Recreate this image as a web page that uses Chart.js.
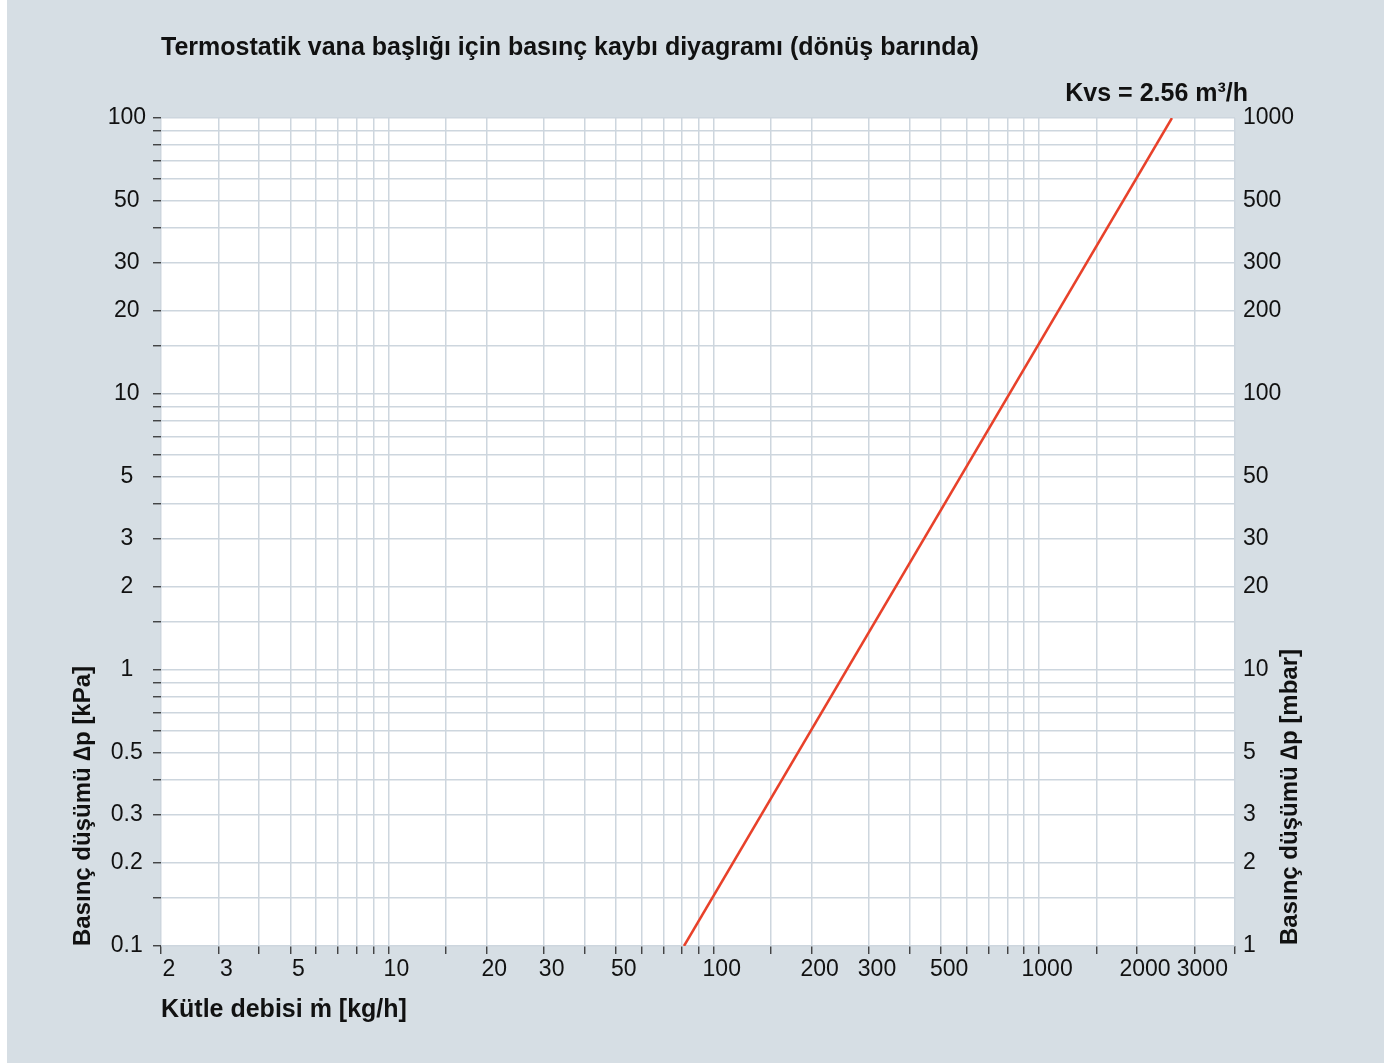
<!DOCTYPE html>
<html>
<head>
<meta charset="utf-8">
<script src="https://cdn.jsdelivr.net/npm/chart.js@4"></script>
<style>
  body { margin: 0; background: #ffffff; }
  #panel { position: absolute; left: 7px; top: 0; width: 1377px; height: 1063px; background: #d6dee4; }
</style>
</head>
<body>
<div id="panel"><canvas id="chart" width="1377" height="1063"></canvas></div>
<script>
// Kvs = 2.56 m3/h line (kg/h, kPa)
const flowKgH = [81, 2560];
const dropKPa = [0.1, 100];

// gridlines / tick marks
const xTickValues = [2, 3, 4, 5, 6, 7, 8, 9, 10, 15, 20, 30, 40, 50, 60, 70, 80, 90,
  100, 150, 200, 300, 400, 500, 600, 700, 800, 900, 1000, 1500, 2000, 3000, 4000];
const xTickLabels = [2, 3, 5, 10, 20, 30, 50, 100, 200, 300, 500, 1000, 2000, 3000];

const yTickValues = [0.1, 0.15, 0.2, 0.3, 0.4, 0.5, 0.6, 0.7, 0.8, 0.9, 1, 1.5, 2, 3, 4, 5, 6, 7, 8, 9,
  10, 15, 20, 30, 40, 50, 60, 70, 80, 90, 100];
const yTickLabels = [0.1, 0.2, 0.3, 0.5, 1, 2, 3, 5, 10, 20, 30, 50, 100];

// right axis in mbar
const mbarTickLabels = [1, 2, 3, 5, 10, 20, 30, 50, 100, 200, 300, 500, 1000];

const FONT = '"Liberation Sans", Arial, "DejaVu Sans", sans-serif';
const GRID = '#cdd6de';
const TICK_FONT = { family: FONT, size: 23 };
const BOLD_FONT = { family: FONT, size: 24, weight: 'bold', lineHeight: 1.2 };
const BIG_BOLD_FONT = { family: FONT, size: 25, weight: 'bold', lineHeight: 1.2 };

const hasLabel = (list, v) => list.some(l => Math.abs(l - v) < 1e-9);

const plotBackground = {
  id: 'plotBackground',
  beforeDraw(chart) {
    const { ctx, chartArea } = chart;
    ctx.save();
    ctx.fillStyle = '#ffffff';
    ctx.fillRect(chartArea.left, chartArea.top, chartArea.right - chartArea.left, chartArea.bottom - chartArea.top);
    ctx.restore();
  }
};

// extra texts: Kvs note and right axis title (reads bottom to top)
const extraTexts = {
  id: 'extraTexts',
  afterDraw(chart) {
    const { ctx, chartArea } = chart;
    ctx.save();
    ctx.fillStyle = '#111';
    ctx.font = 'bold 25px ' + FONT;
    ctx.textAlign = 'right';
    ctx.textBaseline = 'middle';
    ctx.fillText('Kvs = 2.56 m³/h', chartArea.right + 13, 94);

    ctx.font = 'bold 24px ' + FONT;
    ctx.translate(chartArea.right + 55, chartArea.bottom - 1);
    ctx.rotate(-Math.PI / 2);
    ctx.textAlign = 'left';
    ctx.fillText('Basınç düşümü ∆p [mbar]', 0, 0);
    ctx.restore();
  }
};

new Chart(document.getElementById('chart'), {
  type: 'line',
  data: {
    datasets: [{
      data: flowKgH.map((x, i) => ({ x: x, y: dropKPa[i] })),
      borderColor: '#e8412a',
      borderWidth: 2.5,
      pointRadius: 0,
      fill: false
    }]
  },
  options: {
    responsive: false,
    animation: false,
    layout: { padding: 0 },
    plugins: {
      legend: { display: false },
      tooltip: { enabled: false },
      title: {
        display: true,
        text: 'Termostatik vana başlığı için basınç kaybı diyagramı (dönüş barında)',
        align: 'start',
        fullSize: false,
        color: '#111',
        font: BIG_BOLD_FONT,
        padding: { top: 33, bottom: 55 }
      }
    },
    scales: {
      x: {
        type: 'logarithmic',
        min: 2,
        max: 4000,
        afterBuildTicks: s => { s.ticks = xTickValues.map(v => ({ value: v })); },
        afterFit: s => { s.height = 117; },
        grid: { color: GRID, lineWidth: 1.5, tickColor: '#333', tickLength: 8, tickWidth: 1.3 },
        border: { display: false },
        ticks: {
          autoSkip: false,
          maxRotation: 0,
          labelOffset: 8,
          padding: 2,
          color: '#111',
          font: TICK_FONT,
          callback: v => hasLabel(xTickLabels, v) ? String(v) : ''
        },
        title: {
          display: true,
          text: 'Kütle debisi ṁ [kg/h]',
          align: 'start',
          color: '#111',
          font: BIG_BOLD_FONT,
          padding: { top: 0, bottom: 38 }
        }
      },
      y: {
        type: 'logarithmic',
        position: 'left',
        min: 0.1,
        max: 100,
        afterBuildTicks: s => { s.ticks = yTickValues.map(v => ({ value: v })); },
        afterFit: s => { s.width = 154; },
        grid: { color: GRID, lineWidth: 1.5, tickColor: '#333', tickLength: 8, tickWidth: 1.3 },
        border: { display: false },
        ticks: {
          autoSkip: false,
          crossAlign: 'center',
          padding: 7,
          color: '#111',
          font: TICK_FONT,
          callback: v => hasLabel(yTickLabels, v) ? String(v) : ''
        },
        title: {
          display: true,
          text: 'Basınç düşümü ∆p [kPa]',
          align: 'start',
          color: '#111',
          font: BOLD_FONT,
          padding: { top: 62, bottom: 0 }
        }
      },
      y2: {
        type: 'logarithmic',
        position: 'right',
        min: 1,
        max: 1000,
        afterBuildTicks: s => { s.ticks = mbarTickLabels.map(v => ({ value: v })); },
        afterFit: s => { s.width = 149; },
        grid: { display: false, drawTicks: false },
        border: { display: false },
        ticks: {
          autoSkip: false,
          padding: 8,
          color: '#111',
          font: TICK_FONT,
          callback: v => String(v)
        }
      }
    }
  },
  plugins: [plotBackground, extraTexts]
});
</script>
</body>
</html>
